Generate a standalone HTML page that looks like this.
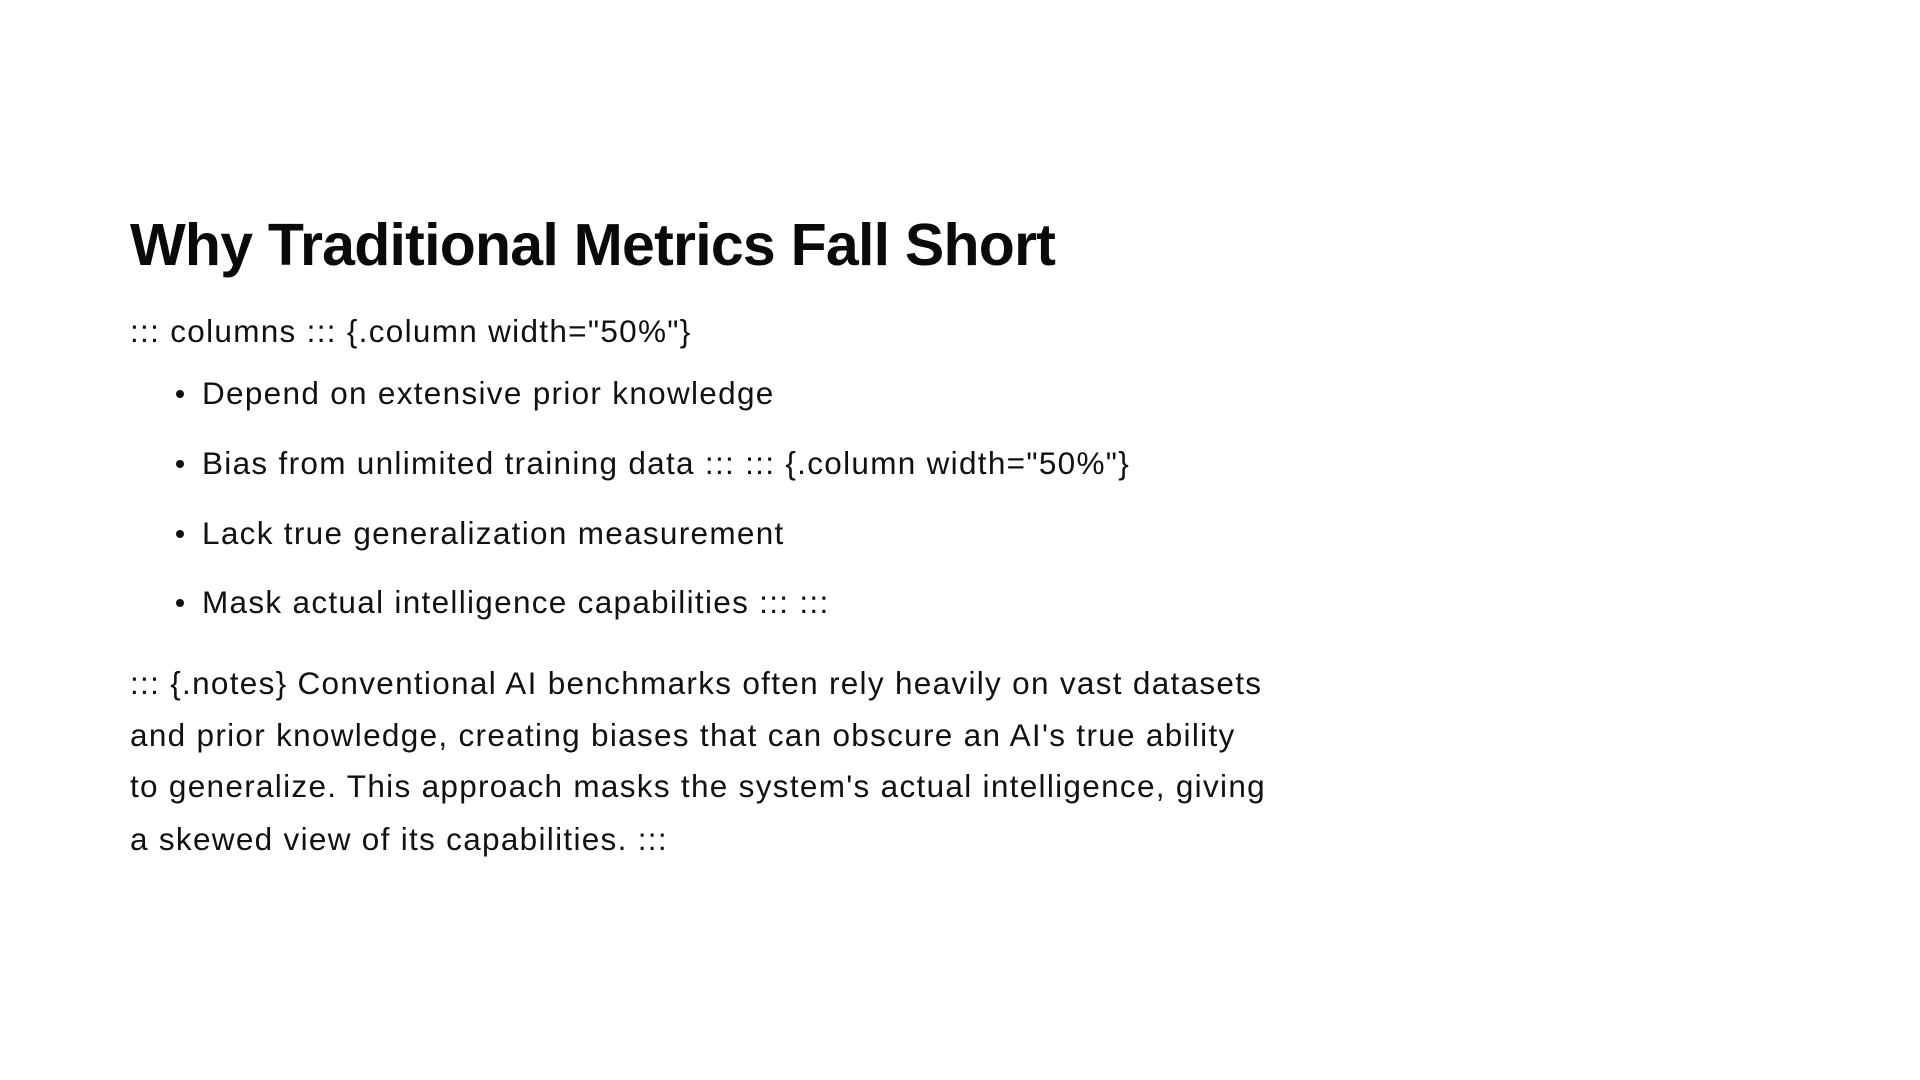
<!DOCTYPE html>
<html><head><meta charset="utf-8"><style>
html,body{margin:0;padding:0;background:#fff;width:1920px;height:1080px;overflow:hidden}
.t{position:absolute;white-space:nowrap;line-height:1;font-family:"Liberation Sans",sans-serif;color:#111}
h1.t{margin:0;font-size:59px;font-weight:bold;letter-spacing:-0.75px;left:130px;top:216px;color:#0a0a0a}
.b{font-size:31.5px;left:130px;letter-spacing:1.3px;margin-top:-1px}
.li{font-size:31.5px;left:202px;letter-spacing:1.3px;margin-top:-1px}
.dot{position:absolute;width:8px;height:8px;border-radius:50%;background:#111;left:176px}
</style></head><body>
<h1 class="t">Why Traditional Metrics Fall Short</h1>
<div class="t b" style="top:317px">::: columns ::: {.column width="50%"}</div>
<div class="dot" style="top:390px"></div>
<div class="t li" style="top:379px">Depend on extensive prior knowledge</div>
<div class="dot" style="top:460px"></div>
<div class="t li" style="top:449px">Bias from unlimited training data ::: ::: {.column width="50%"}</div>
<div class="dot" style="top:530px"></div>
<div class="t li" style="top:519px">Lack true generalization measurement</div>
<div class="dot" style="top:599px"></div>
<div class="t li" style="top:588px">Mask actual intelligence capabilities ::: :::</div>
<div class="t b" style="top:669px">::: {.notes} Conventional AI benchmarks often rely heavily on vast datasets</div>
<div class="t b" style="top:721px">and prior knowledge, creating biases that can obscure an AI's true ability</div>
<div class="t b" style="top:772px">to generalize. This approach masks the system's actual intelligence, giving</div>
<div class="t b" style="top:825px">a skewed view of its capabilities. :::</div>
</body></html>
